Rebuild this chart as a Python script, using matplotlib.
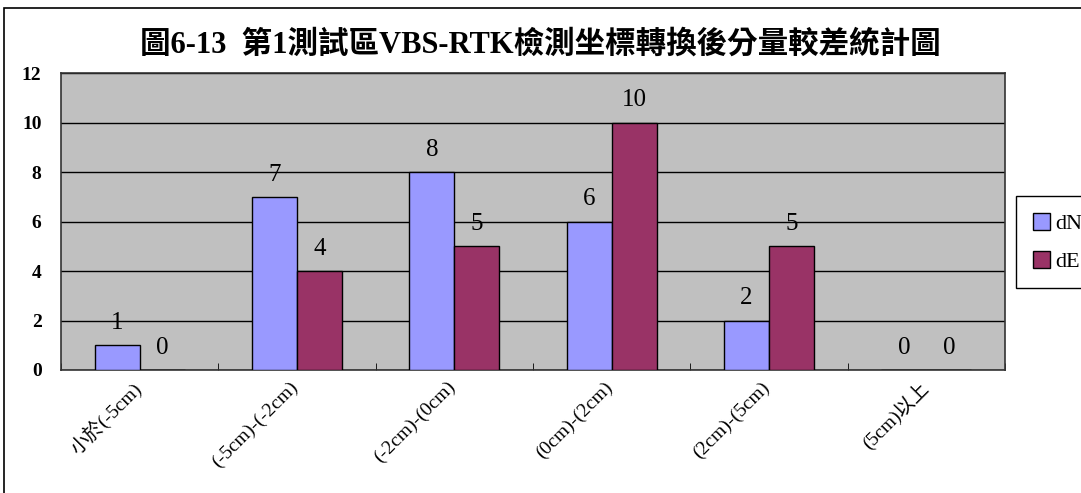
import numpy as np
import matplotlib.pyplot as plt
import matplotlib.transforms as mtransforms
from matplotlib.patches import Rectangle

plt.rcParams['font.family'] = ['Liberation Serif', 'Noto Sans CJK TC', 'DejaVu Sans']

categories = ['小於(-5cm)', '(-5cm)-(-2cm)', '(-2cm)-(0cm)', '(0cm)-(2cm)', '(2cm)-(5cm)', '(5cm)以上']
dN = [1, 7, 8, 6, 2, 0]
dE = [0, 4, 5, 10, 5, 0]
title = '圖6-13  第1測試區VBS-RTK檢測坐標轉換後分量較差統計圖'

fig = plt.figure(figsize=(10.81, 4.93), dpi=100)
fig.patches.append(Rectangle((4 / 1081, -0.1), 1.2, 1 - 8 / 493 + 0.1, transform=fig.transFigure,
                             fill=False, edgecolor='black', linewidth=1.2))
ax = fig.add_axes([61 / 1081, 1 - 370 / 493, (1005 - 61) / 1081, (370 - 73) / 493])
ax.set_facecolor('#C0C0C0')

x = np.arange(len(categories))
w = 1 / 3.5
b1 = ax.bar(x - w / 2, dN, w, color='#9999FF', edgecolor='black', linewidth=1, label='dN', zorder=3)
b2 = ax.bar(x + w / 2, dE, w, color='#993366', edgecolor='black', linewidth=1, label='dE', zorder=3)
for bars in (b1, b2):
    for r in bars:
        ax.text(r.get_x() + r.get_width() / 2, r.get_height() + 0.45, str(int(r.get_height())),
                ha='center', va='bottom', fontsize=18)

ax.set_xlim(-0.5, len(categories) - 0.5)
ax.set_ylim(0, 12)
ax.set_yticks(range(0, 13, 2))
ax.yaxis.grid(True, color='black', linewidth=1, zorder=1)
ax.set_axisbelow(True)
ax.tick_params(axis='y', length=0, labelsize=14, pad=14)
for lab in ax.get_yticklabels():
    lab.set_fontweight('bold')

ax.set_xticks(x)
ax.set_xticklabels(categories, rotation=45, ha='right', rotation_mode='anchor', fontsize=14)
ax.tick_params(axis='x', length=0, pad=6)
shift = mtransforms.ScaledTranslation(-0.08, 0, fig.dpi_scale_trans)
for lab in ax.get_xticklabels():
    lab.set_transform(lab.get_transform() + shift)
ax.set_xticks(np.arange(-0.5, len(categories), 1), minor=True)
ax.tick_params(axis='x', which='minor', direction='in', length=5)
for s in ax.spines.values():
    s.set_color('#333333')
    s.set_linewidth(1.2)

fig.text(540 / 1081, 1 - 45 / 493, title, ha='center', va='center', fontsize=22, fontweight='bold')
fig.legend(handles=[b1, b2], labels=['dN', 'dE'], loc='upper left', bbox_to_anchor=(1016 / 1081, 1 - 196 / 493),
           fontsize=16, frameon=True, fancybox=False, edgecolor='black', framealpha=1,
           handlelength=0.8, handleheight=0.8, handletextpad=0.2, borderpad=0.75, labelspacing=0.75,
           borderaxespad=0)

fig.savefig('out.png', dpi=100)
